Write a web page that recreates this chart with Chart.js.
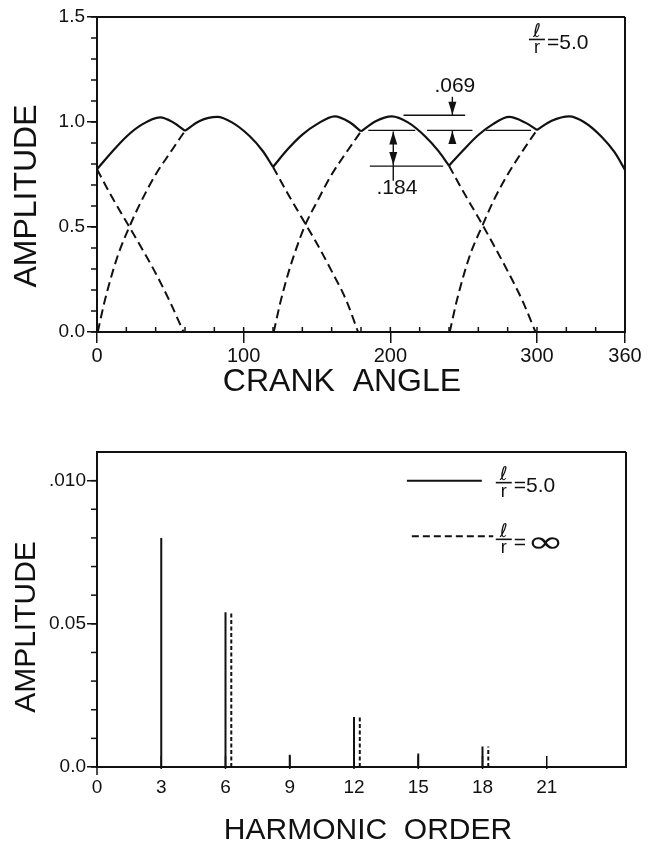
<!DOCTYPE html>
<html>
<head>
<meta charset="utf-8">
<script src="https://cdn.jsdelivr.net/npm/chart.js@4.4.1/dist/chart.umd.min.js"></script>
<style>
  html, body { margin: 0; padding: 0; background: #fff; }
  #wrap { position: relative; width: 658px; height: 844px; overflow: hidden; }
  #c1 { position: absolute; left: 0; top: 0; width: 658px; height: 400px; }
  #c2 { position: absolute; left: 0; top: 420px; width: 658px; height: 424px; }
</style>
</head>
<body>
<div id="wrap">
  <canvas id="c1" width="658" height="400"></canvas>
  <canvas id="c2" width="658" height="424"></canvas>
</div>
<script>
// ---------------- DATA ----------------
// Top chart: envelope (solid) and individual cylinder curves (dashed)
const solidAngle = [0,10,20,30,43,52,60,70,82,92,104,113,120,130,140,150,162,172,180,190,201,212,224,233,240,250,260,270,281,292,300,310,322,332,344,353,360];
const solidAmp   = [0.775,0.856,0.93,0.985,1.022,0.998,0.958,1.005,1.024,0.998,0.933,0.862,0.786,0.87,0.94,0.99,1.027,1.0,0.955,1.004,1.027,0.998,0.93,0.86,0.792,0.868,0.938,0.99,1.024,0.997,0.962,1.006,1.027,1.0,0.93,0.855,0.772];
const cuspAngles = [60,120,180,240,300];

const fallC_angle = [0,10,20,30,40,50,59];
const fallC_amp   = [0.775,0.645,0.525,0.405,0.28,0.14,0];
const riseA_angle = [0.5,5,10,15,22,30,40,50,60];
const riseA_amp   = [0,0.14,0.27,0.38,0.5,0.62,0.75,0.855,0.958];
const fallA_angle = [120,130,140,150,160,170,178];
const fallA_amp   = [0.786,0.66,0.54,0.42,0.29,0.15,0];
const riseB_angle = [120.5,125,130,135,142,150,160,170,180];
const riseB_amp   = [0,0.14,0.27,0.38,0.51,0.62,0.75,0.855,0.955];
const fallB_angle = [240,250,260,270,280,290,299];
const fallB_amp   = [0.792,0.665,0.545,0.42,0.29,0.15,0];
const riseC_angle = [240.5,245,250,255,263,270,280,290,300];
const riseC_amp   = [0,0.14,0.27,0.38,0.51,0.62,0.75,0.86,0.962];

const crankTicks = [0,100,200,300,360];
const topAmpTicks = [0,0.5,1.0,1.5];
const topAmpTickLabels = ['0.0','0.5','1.0','1.5'];

// Bottom chart: harmonic amplitudes
const harmonicOrder = [3,6,9,12,15,18];
const ampLr5 = [0.080,0.054,0.0043,0.0175,0.0047,0.0072];
const harmonicOrderInf = [6,12,18];
const ampLrInf = [0.054,0.0174,0.0072];
const harmonicTicks = [0,3,6,9,12,15,18,21];
const amplitudeTicks = [0,0.05,0.10];
const amplitudeTickLabels = ['0.0','0.05','.010'];

// ---------------- STYLE ----------------
const INK = '#111';
const FONT = "'Liberation Sans', Arial, sans-serif";
const SYM = "'DejaVu Sans', sans-serif";
Chart.defaults.font.family = FONT;
Chart.defaults.color = INK;
const DASH_TOP = [9,5];
const DASH_BOT = [4,2.5];
const INF_OFFSET = 0.27;   // drawn side-by-side offset for l/r = inf stems

// annotation marks on the top chart (data units)
const topRefLines = [
  {y:0.96, x1:185, x2:217},
  {y:0.79, x1:186, x2:236},
  {y:1.032, x1:209, x2:251},
  {y:0.96, x1:225, x2:256},
  {y:0.96, x1:265, x2:296}
];

// ---------------- helpers ----------------
function pts(xs, ys, off) { return xs.map((x, i) => ({x: x + (off || 0), y: ys[i]})); }
function splitAt(xs, ys, cuts) {
  const segs = []; let cur = [];
  xs.forEach((x, i) => {
    cur.push({x, y: ys[i]});
    if (cuts.includes(x)) { segs.push(cur); cur = [{x, y: ys[i]}]; }
  });
  if (cur.length > 1) segs.push(cur);
  return segs;
}
function stems(xs, ys, off) {
  const out = [];
  xs.forEach((x, i) => { out.push({x: x + off, y: 0}, {x: x + off, y: ys[i]}, {x: x + off, y: null}); });
  return out;
}
function line(ctx, x1, y1, x2, y2) { ctx.beginPath(); ctx.moveTo(x1, y1); ctx.lineTo(x2, y2); ctx.stroke(); }
function head(ctx, x, yTip, dir) { // dir -1 = pointing up, +1 = pointing down
  ctx.beginPath();
  ctx.moveTo(x, yTip);
  ctx.lineTo(x - 4, yTip - dir * 13);
  ctx.lineTo(x + 4, yTip - dir * 13);
  ctx.closePath(); ctx.fill();
}
function ratio(ctx, xL, yBar, rhs, inf) {
  ctx.save();
  ctx.fillStyle = INK; ctx.strokeStyle = INK; ctx.lineWidth = 1.6;
  ctx.font = "19px " + SYM; ctx.textAlign = 'center'; ctx.textBaseline = 'alphabetic';
  ctx.fillText('ℓ', xL + 8, yBar - 2.5);
  line(ctx, xL, yBar, xL + 16, yBar);
  ctx.font = "18px " + FONT;
  ctx.fillText('r', xL + 8, yBar + 14);
  ctx.textAlign = 'left'; ctx.textBaseline = 'middle';
  ctx.font = "21px " + FONT;
  if (!inf) {
    ctx.fillText(rhs, xL + 18, yBar + 4);
  } else {
    ctx.fillText('=', xL + 18, yBar + 4);
    ctx.save();
    ctx.translate(xL + 31, yBar + 5);
    ctx.scale(1.5, 1);
    ctx.font = "30px " + SYM;
    ctx.fillText('∞', 0, 0);
    ctx.restore();
  }
  ctx.restore();
}

// ---------------- TOP CHART ----------------
const topDatasets = [];
splitAt(solidAngle, solidAmp, cuspAngles).forEach(seg => topDatasets.push({
  data: seg, borderColor: INK, borderWidth: 2.2, pointRadius: 0, fill: false,
  cubicInterpolationMode: 'monotone'
}));
[[fallC_angle, fallC_amp],[riseA_angle, riseA_amp],[fallA_angle, fallA_amp],
 [riseB_angle, riseB_amp],[fallB_angle, fallB_amp],[riseC_angle, riseC_amp]].forEach(p => topDatasets.push({
  data: pts(p[0], p[1]), borderColor: INK, borderWidth: 2, borderDash: DASH_TOP,
  pointRadius: 0, fill: false, cubicInterpolationMode: 'monotone'
}));

const topDecor = {
  id: 'topDecor',
  afterDraw(chart) {
    const {ctx, chartArea: a, scales: {x, y}} = chart;
    ctx.save();
    ctx.strokeStyle = INK; ctx.fillStyle = INK;
    // frame
    ctx.lineWidth = 2;
    line(ctx, a.left, a.top, a.right, a.top);
    line(ctx, a.right, a.top, a.right, a.bottom + 1);
    // minor ticks
    ctx.lineWidth = 1.5;
    for (let k = 0; k <= 15; k++) { const py = y.getPixelForValue(k / 10); line(ctx, a.left - 6, py, a.left, py); }
    for (let k = 1; k < 18; k++) { const px = x.getPixelForValue(k * 20); line(ctx, px, a.bottom, px, a.bottom - 5); }
    // reference lines
    ctx.lineWidth = 1.4;
    topRefLines.forEach(r => line(ctx, x.getPixelForValue(r.x1), y.getPixelForValue(r.y), x.getPixelForValue(r.x2), y.getPixelForValue(r.y)));
    // .184 double arrow
    const xa = x.getPixelForValue(202);
    line(ctx, xa, y.getPixelForValue(0.955), xa, y.getPixelForValue(0.72));
    head(ctx, xa, y.getPixelForValue(0.955), -1);
    head(ctx, xa, y.getPixelForValue(0.795), 1);
    // .069 arrows
    const xb = x.getPixelForValue(242.3);
    line(ctx, xb, y.getPixelForValue(1.12), xb, y.getPixelForValue(1.032));
    head(ctx, xb, y.getPixelForValue(1.035), 1);
    line(ctx, xb, y.getPixelForValue(0.895), xb, y.getPixelForValue(0.96));
    head(ctx, xb, y.getPixelForValue(0.957), -1);
    // labels
    ctx.font = "21px " + FONT; ctx.textAlign = 'center'; ctx.textBaseline = 'middle';
    ctx.fillText('.069', x.getPixelForValue(244), y.getPixelForValue(1.17));
    ctx.fillText('.184', x.getPixelForValue(204.5), y.getPixelForValue(0.685));
    // l/r = 5.0
    ratio(ctx, x.getPixelForValue(294.5), y.getPixelForValue(1.393), '=5.0', false);
    // axis titles
    ctx.font = "32px " + FONT; ctx.textAlign = 'center'; ctx.textBaseline = 'middle';
    ctx.save(); ctx.translate(27, 196); ctx.rotate(-Math.PI / 2); ctx.fillText('AMPLITUDE', 0, 0); ctx.restore();
    ctx.textBaseline = 'alphabetic';
    ctx.fillText('CRANK  ANGLE', 342, 391);
    ctx.restore();
  }
};

new Chart(document.getElementById('c1'), {
  type: 'line',
  data: { datasets: topDatasets },
  options: {
    responsive: false, animation: false, devicePixelRatio: 1,
    parsing: true,
    layout: { padding: { left: 0, right: 33, top: 17, bottom: 8 } },
    plugins: { legend: { display: false }, tooltip: { enabled: false } },
    scales: {
      x: {
        type: 'linear', min: 0, max: 360,
        afterBuildTicks: s => { s.ticks = crankTicks.map(v => ({value: v})); },
        afterFit: s => { s.height = 60; },
        ticks: { font: { size: 20 }, color: INK, padding: 1, maxRotation: 0, autoSkip: false },
        grid: { display: true, drawOnChartArea: false, drawTicks: true, tickLength: 11, color: INK, lineWidth: 1.5 },
        border: { display: true, color: INK, width: 2 }
      },
      y: {
        type: 'linear', min: 0, max: 1.5,
        afterBuildTicks: s => { s.ticks = topAmpTicks.map(v => ({value: v})); },
        afterFit: s => { s.width = 97; },
        ticks: { font: { size: 19 }, color: INK, padding: 2, callback: (v, i) => topAmpTickLabels[i], autoSkip: false },
        grid: { display: true, drawOnChartArea: false, drawTicks: true, tickLength: 10, color: INK, lineWidth: 1.5 },
        border: { display: true, color: INK, width: 2 }
      }
    }
  },
  plugins: [topDecor]
});

// ---------------- BOTTOM CHART ----------------
const botDecor = {
  id: 'botDecor',
  afterDraw(chart) {
    const {ctx, chartArea: a, scales: {x, y}} = chart;
    ctx.save();
    ctx.strokeStyle = INK; ctx.fillStyle = INK;
    ctx.lineWidth = 2;
    line(ctx, a.left, a.top, a.right, a.top);
    line(ctx, a.right, a.top, a.right, a.bottom + 1);
    // minor y ticks (every 0.01), outward
    ctx.lineWidth = 1.5;
    for (let k = 0; k <= 10; k++) { const py = y.getPixelForValue(k / 100); line(ctx, a.left - 6, py, a.left, py); }
    // x ticks, inward
    harmonicTicks.forEach(v => {
      const px = x.getPixelForValue(v);
      line(ctx, px, a.bottom + (v === 0 ? 8 : 2), px, a.bottom - 11);
    });
    // legend
    ctx.lineWidth = 2;
    line(ctx, x.getPixelForValue(14.47), y.getPixelForValue(0.1), x.getPixelForValue(17.97), y.getPixelForValue(0.1));
    ctx.setLineDash([7, 4]);
    line(ctx, x.getPixelForValue(14.7), y.getPixelForValue(0.0806), x.getPixelForValue(18.5), y.getPixelForValue(0.0806));
    ctx.setLineDash([]);
    ratio(ctx, x.getPixelForValue(18.62), y.getPixelForValue(0.0993), '=5.0', false);
    ratio(ctx, x.getPixelForValue(18.62), y.getPixelForValue(0.0795), '', true);
    // axis titles
    ctx.font = "30px " + FONT; ctx.textAlign = 'center'; ctx.textBaseline = 'middle';
    ctx.save(); ctx.translate(26.5, 207); ctx.rotate(-Math.PI / 2); ctx.fillText('AMPLITUDE', 0, 0); ctx.restore();
    ctx.textBaseline = 'alphabetic';
    ctx.fillText('HARMONIC  ORDER', 368, 419);
    ctx.restore();
  }
};

new Chart(document.getElementById('c2'), {
  type: 'line',
  data: {
    datasets: [
      { label: 'l/r = 5.0', data: stems(harmonicOrder, ampLr5, 0), borderColor: INK, borderWidth: 2,
        pointRadius: 0, fill: false, spanGaps: false, tension: 0 },
      { label: 'l/r = ∞', data: stems(harmonicOrderInf, ampLrInf, INF_OFFSET), borderColor: INK, borderWidth: 2,
        borderDash: DASH_BOT, pointRadius: 0, fill: false, spanGaps: false, tension: 0 }
    ]
  },
  options: {
    responsive: false, animation: false, devicePixelRatio: 1,
    layout: { padding: { left: 0, right: 32, top: 32, bottom: 0 } },
    plugins: { legend: { display: false }, tooltip: { enabled: false } },
    scales: {
      x: {
        type: 'linear', min: 0, max: 24.7,
        afterBuildTicks: s => { s.ticks = harmonicTicks.map(v => ({value: v})); },
        afterFit: s => { s.height = 77; },
        ticks: { font: { size: 19 }, color: INK, padding: 9, maxRotation: 0, autoSkip: false },
        grid: { display: false, drawTicks: false },
        border: { display: true, color: INK, width: 2 }
      },
      y: {
        type: 'linear', min: 0, max: 0.11,
        afterBuildTicks: s => { s.ticks = amplitudeTicks.map(v => ({value: v})); },
        afterFit: s => { s.width = 97; },
        ticks: { font: { size: 19 }, color: INK, padding: 1, callback: (v, i) => amplitudeTickLabels[i], autoSkip: false },
        grid: { display: true, drawOnChartArea: false, drawTicks: true, tickLength: 10, color: INK, lineWidth: 1.5 },
        border: { display: true, color: INK, width: 2 }
      }
    }
  },
  plugins: [botDecor]
});
</script>
</body>
</html>
